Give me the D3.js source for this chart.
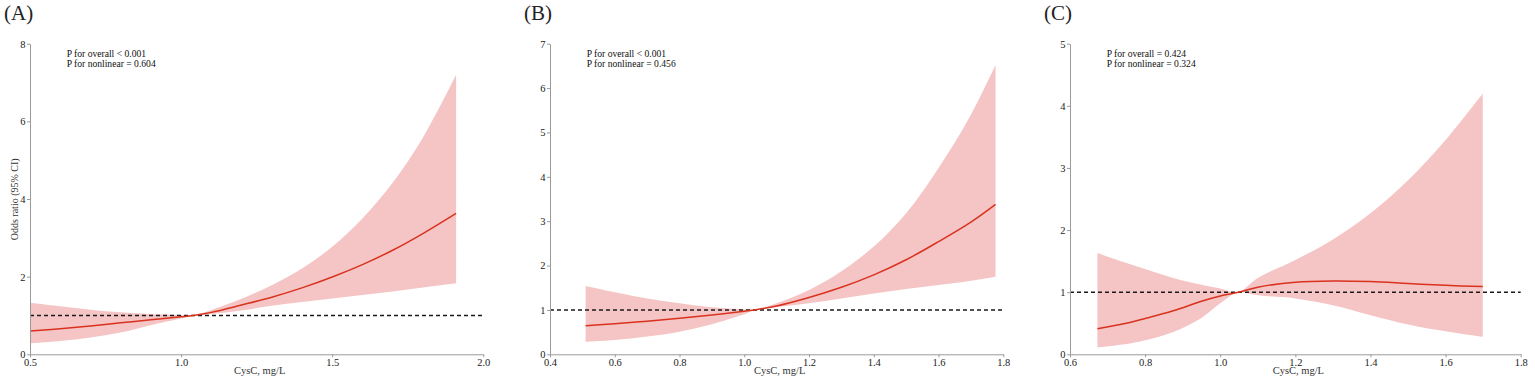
<!DOCTYPE html>
<html>
<head>
<meta charset="utf-8">
<script src="https://cdn.jsdelivr.net/npm/d3@7"></script>
<style>
  html, body { margin: 0; padding: 0; background: #fff; }
  svg { display: block; }
  text { font-family: "Liberation Serif", "DejaVu Serif", serif; }
</style>
</head>
<body>
<svg id="chart" width="1535" height="384"></svg>
<script>
// ---------- DATA ----------
const panelLabels = ["(A)", "(B)", "(C)"];
const pOverall = ["P for overall < 0.001", "P for overall < 0.001", "P for overall = 0.424"];
const pNonlinear = ["P for nonlinear = 0.604", "P for nonlinear = 0.456", "P for nonlinear = 0.324"];
const xTitle = "CysC, mg/L";
const yTitle = "Odds ratio (95% CI)";

// Panel A
const xA     = [0.5, 0.6, 0.7, 0.8, 0.9, 1.0, 1.04, 1.1, 1.2, 1.3, 1.4, 1.5, 1.6, 1.7, 1.8, 1.91];
const orA    = [0.60, 0.66, 0.73, 0.81, 0.89, 0.965, 1.0, 1.08, 1.27, 1.47, 1.71, 1.99, 2.31, 2.68, 3.11, 3.63];
const upA    = [1.33, 1.24, 1.15, 1.08, 1.04, 1.015, 1.0, 1.14, 1.43, 1.78, 2.21, 2.77, 3.50, 4.42, 5.58, 7.20];
const loA    = [0.28, 0.34, 0.43, 0.56, 0.75, 0.92, 1.0, 1.04, 1.13, 1.25, 1.35, 1.44, 1.53, 1.62, 1.72, 1.83];
const xTicksA = [0.5, 1.0, 1.5, 2.0];
const yTicksA = [0, 2, 4, 6, 8];

// Panel B
const xB     = [0.51, 0.6, 0.7, 0.8, 0.9, 1.0, 1.03, 1.1, 1.2, 1.3, 1.4, 1.5, 1.6, 1.7, 1.776];
const orB    = [0.645, 0.69, 0.745, 0.81, 0.885, 0.97, 1.0, 1.09, 1.28, 1.51, 1.79, 2.13, 2.54, 2.98, 3.38];
const upB    = [1.54, 1.40, 1.26, 1.15, 1.06, 1.01, 1.0, 1.15, 1.45, 1.87, 2.43, 3.18, 4.20, 5.40, 6.52];
const loB    = [0.28, 0.32, 0.40, 0.51, 0.68, 0.90, 1.0, 1.06, 1.15, 1.26, 1.37, 1.47, 1.56, 1.66, 1.75];
const xTicksB = [0.4, 0.6, 0.8, 1.0, 1.2, 1.4, 1.6, 1.8];
const yTicksB = [0, 1, 2, 3, 4, 5, 6, 7];

// Panel C
const xC     = [0.673, 0.75, 0.8, 0.875, 0.95, 1.0, 1.048, 1.1, 1.2, 1.3, 1.4, 1.5, 1.6, 1.699];
const orC    = [0.41, 0.50, 0.575, 0.70, 0.855, 0.94, 1.0, 1.08, 1.16, 1.18, 1.17, 1.14, 1.11, 1.09];
const upC    = [1.63, 1.47, 1.375, 1.23, 1.12, 1.06, 1.0, 1.23, 1.52, 1.85, 2.27, 2.80, 3.45, 4.20];
const loC    = [0.11, 0.165, 0.225, 0.36, 0.585, 0.82, 1.0, 0.95, 0.90, 0.79, 0.63, 0.48, 0.37, 0.28];
const xTicksC = [0.6, 0.8, 1.0, 1.2, 1.4, 1.6, 1.8];
const yTicksC = [0, 1, 2, 3, 4, 5];

const refValue = 1;

// ---------- LAYOUT ----------
const panels = [
  { x: xA, or: orA, up: upA, lo: loA, xt: xTicksA, yt: yTicksA, left: 30,  right: 483.3,  labelX: 4,    annX: 66.7 },
  { x: xB, or: orB, up: upB, lo: loB, xt: xTicksB, yt: yTicksB, left: 550, right: 1003.3, labelX: 524,  annX: 586.7 },
  { x: xC, or: orC, up: upC, lo: loC, xt: xTicksC, yt: yTicksC, left: 1070, right: 1520.7, labelX: 1044, annX: 1106.7 }
];
const plotTop = 43.7, plotBottom = 354.3;
const smooth = d3.curveCatmullRom.alpha(0.5);

const svg = d3.select("#chart");

panels.forEach((p, i) => {
  const xs = d3.scaleLinear().domain([p.xt[0], p.xt[p.xt.length - 1]]).range([p.left, p.right]);
  const ys = d3.scaleLinear().domain([p.yt[0], p.yt[p.yt.length - 1]]).range([plotBottom, plotTop]);
  const g = svg.append("g");
  const pts = p.x.map((v, k) => ({ x: v, or: p.or[k], up: p.up[k], lo: p.lo[k] }));

  // CI band
  g.append("path")
    .datum(pts)
    .attr("fill", "#f5c5c5")
    .attr("d", d3.area().curve(smooth)
      .x(d => xs(d.x)).y0(d => ys(d.lo)).y1(d => ys(d.up)));

  // reference line
  g.append("line")
    .attr("x1", xs.range()[0]).attr("x2", xs.range()[1])
    .attr("y1", ys(refValue)).attr("y2", ys(refValue))
    .attr("stroke", "#1a1a1a").attr("stroke-width", 1.4)
    .attr("stroke-dasharray", "4,3");

  // OR curve
  g.append("path")
    .datum(pts)
    .attr("fill", "none")
    .attr("stroke", "#d9321f")
    .attr("stroke-width", 1.5)
    .attr("d", d3.line().curve(smooth).x(d => xs(d.x)).y(d => ys(d.or)));

  // axes
  const xAxis = g.append("g").attr("transform", `translate(0,${plotBottom})`)
    .call(d3.axisBottom(xs).tickValues(p.xt).tickFormat(d3.format(".1f")).tickSize(3).tickSizeOuter(0).tickPadding(1));
  const yAxis = g.append("g").attr("transform", `translate(${p.left},0)`)
    .call(d3.axisLeft(ys).tickValues(p.yt).tickFormat(d3.format("d")).tickSize(3).tickSizeOuter(0).tickPadding(1.5));
  [xAxis, yAxis].forEach(a => {
    a.select(".domain").attr("stroke", "#9a9a9a").attr("stroke-width", 1);
    a.selectAll(".tick line").attr("stroke", "#9a9a9a");
    a.selectAll(".tick text").attr("fill", "#222").style("font-size", "10.5px")
      .style("font-family", "'Liberation Serif', serif");
  });

  // x title
  g.append("text")
    .attr("x", (p.left + p.right) / 2 + 3).attr("y", 374)
    .attr("text-anchor", "middle").attr("fill", "#333")
    .style("font-size", "10.5px").text(xTitle);

  // panel label
  g.append("text")
    .attr("x", p.labelX).attr("y", 20)
    .attr("fill", "#222").style("font-size", "21px").text(panelLabels[i]);

  // annotations
  g.append("text").attr("x", p.annX).attr("y", 56.5)
    .attr("fill", "#111").style("font-size", "9.6px").text(pOverall[i]);
  g.append("text").attr("x", p.annX).attr("y", 67)
    .attr("fill", "#111").style("font-size", "9.6px").text(pNonlinear[i]);
});

// y title (panel A only)
svg.append("text")
  .attr("transform", `translate(17.5,199.3) rotate(-90)`)
  .attr("text-anchor", "middle").attr("fill", "#333")
  .style("font-size", "10px").text(yTitle);
</script>
</body>
</html>
